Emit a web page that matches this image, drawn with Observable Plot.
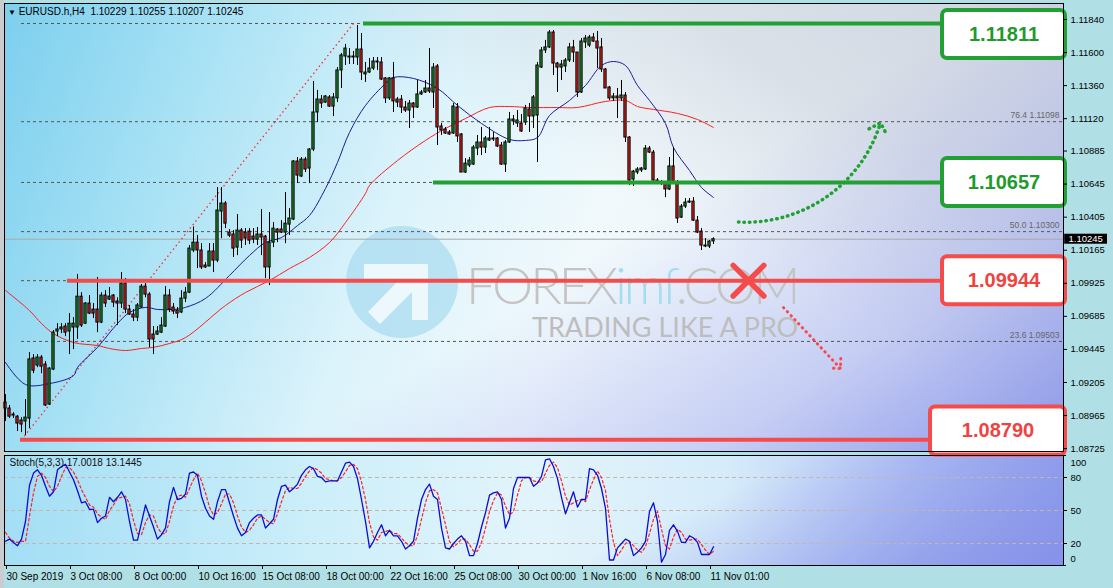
<!DOCTYPE html>
<html><head><meta charset="utf-8">
<script src="https://cdn.jsdelivr.net/npm/d3@7"></script>
<script src="https://cdn.jsdelivr.net/npm/@observablehq/plot@0.6"></script>
<style>
html,body{margin:0;padding:0;background:#b0e0e6;}
#wrap{position:relative;width:1113px;height:588px;overflow:hidden;background:#b0e0e6;font-family:"Liberation Sans",Arial,sans-serif;}
#edge{position:absolute;left:0;top:0;width:4px;height:588px;background:#c9cdd0;}
#bgMain{position:absolute;left:4px;top:3px;width:1059px;height:448px;
 background:
  linear-gradient(148deg, rgba(255,255,255,0) 56%, rgba(150,160,240,0.45) 80%, rgba(118,132,232,0.8) 100%),
  linear-gradient(30deg, rgba(255,255,255,0) 58%, rgba(196,202,214,0.5) 78%, rgba(186,192,208,0.55) 100%),
  linear-gradient(110deg, #7ccfee 0%, #a9e2f5 18%, #dcf3fb 38%, #f1f9fc 55%, #eef4f8 75%, #dfe5ef 100%);}
#bgStoch{position:absolute;left:4px;top:455px;width:1059px;height:110px;
 background:
  linear-gradient(155deg, rgba(255,255,255,0) 62%, rgba(130,142,232,0.85) 100%),
  linear-gradient(90deg, #a3def5 0%, #cdeffa 30%, #e2f4fb 50%, #d6ecfa 68%, #b4c4f4 85%, #98a8ee 100%);}
#wm{position:absolute;left:0;top:0;}
#main,#stoch{position:absolute;left:0;}
#main{top:0}
#stoch{top:453px}
#title{position:absolute;left:8px;top:6px;font-size:10px;color:#000;white-space:pre;line-height:12px;}
#title .tri{font-size:8px;}
</style></head>
<body>
<div id="wrap">
  <div id="edge"></div>
  <div id="bgMain"></div>
  <div id="bgStoch"></div>
  <svg id="wm" width="1113" height="588">
    <circle cx="402" cy="282" r="56" fill="#a3d9ee" opacity="0.65"/>
    <path d="M364 264 H428 V320 H412 V292 L380 324 L368 312 L398 281 H364 Z" fill="#ffffff" opacity="0.75"/>
    <text x="466" y="304" font-family="Lato" font-weight="300" font-size="52" letter-spacing="-3" fill="#c4c4c4">FOREX<tspan fill="#a6dcef">imf</tspan>.COM</text>
    <text x="532" y="337" font-family="Lato" font-size="27" fill="#bdbdbd">TRADING LIKE A PRO</text>
  </svg>
  <div id="main"></div>
  <div id="stoch"></div>
  <div id="title"></div>
</div>
<script>
// ---------- data ----------
const open = [1.09059,1.09016,1.08972,1.08957,1.08929,1.08922,1.08943,1.09379,1.09328,1.09386,
1.09335,1.09045,1.09299,1.09575,1.09604,1.09611,1.09575,1.09604,1.09604,1.09828,
1.09632,1.09778,1.09734,1.09734,1.0964,1.09836,1.09807,1.09836,1.09793,1.09778,
1.09923,1.09734,1.09698,1.09676,1.09749,1.09901,1.09843,1.09553,1.09553,1.09567,
1.09611,1.09836,1.09749,1.09727,1.09713,1.09814,1.09857,1.10163,1.1022,1.10163,
1.10054,1.10047,1.10156,1.1009,1.10446,1.10504,1.10293,1.10279,1.10184,1.10308,
1.10293,1.103,1.10264,1.10242,1.10279,1.10264,1.1004,1.1022,1.10315,1.10315,
1.10293,1.10351,1.10388,1.10809,1.107,1.10823,1.10758,1.10896,1.11165,1.11259,
1.11237,1.11274,1.11208,1.11267,1.1147,1.11571,1.11571,1.11571,1.11564,1.11622,
1.11441,1.11455,1.11484,1.11535,1.11528,1.11412,1.11267,1.11412,1.11259,1.11259,
1.11201,1.11179,1.1123,1.11201,1.11296,1.1131,1.11339,1.1131,1.11499,1.11063,
1.11041,1.1102,1.11012,1.11201,1.11005,1.10729,1.1078,1.10787,1.10903,1.10947,
1.1091,1.10961,1.10976,1.10976,1.10925,1.10787,1.10947,1.111,1.11085,1.11085,
1.11092,1.11187,1.11136,1.11143,1.11491,1.11615,1.11637,1.11745,1.1152,1.11491,
1.11499,1.11542,1.11637,1.116,1.1131,1.11673,1.11651,1.11709,1.1168,1.11637,
1.11477,1.11346,1.11267,1.11281,1.11267,1.11288,1.10983,1.10678,1.10729,1.10744,
1.10751,1.10903,1.10874,1.10671,1.10656,1.10649,1.10606,1.10773,1.10656,1.10402,
1.10482,1.10511,1.10518,1.1038,1.103,1.10199,1.10192,1.10229];
const high = [1.09117,1.09038,1.08986,1.08965,1.0895,1.09081,1.09422,1.09408,1.09408,1.09401,
1.09357,1.09313,1.09582,1.09632,1.09632,1.09632,1.09705,1.09676,1.09989,1.09857,
1.09785,1.09836,1.09778,1.09967,1.09857,1.09872,1.09894,1.09843,1.0982,1.10003,
1.0996,1.09764,1.09734,1.09778,1.09916,1.09923,1.09857,1.09611,1.09611,1.09676,
1.09901,1.09879,1.09778,1.09749,1.09872,1.09894,1.10199,1.10334,1.10272,1.10213,
1.10075,1.10213,1.10213,1.1062,1.1062,1.10518,1.10315,1.10308,1.10424,1.10322,
1.10322,1.10322,1.10322,1.1033,1.1046,1.10272,1.10439,1.10366,1.10322,1.1038,
1.10584,1.10467,1.10816,1.10838,1.10838,1.10838,1.10903,1.1139,1.11325,1.11288,
1.11288,1.11288,1.11303,1.11491,1.11593,1.11659,1.11629,1.11608,1.11796,1.11738,
1.11528,1.11557,1.11564,1.11564,1.11564,1.11419,1.11419,1.11528,1.11274,1.11288,
1.11245,1.11252,1.11237,1.11397,1.11325,1.11397,1.11629,1.1152,1.11513,1.11085,
1.11056,1.11034,1.1123,1.1123,1.11012,1.1083,1.10838,1.10925,1.10998,1.11056,
1.10991,1.11056,1.1102,1.10983,1.10947,1.10961,1.11165,1.11143,1.11179,1.1115,
1.11216,1.1123,1.11288,1.11528,1.11637,1.11688,1.1176,1.1176,1.11528,1.11542,
1.11557,1.11666,1.11688,1.116,1.11702,1.11724,1.11724,1.11738,1.11753,1.11702,
1.11484,1.11354,1.11303,1.11339,1.11397,1.1131,1.10991,1.10744,1.10765,1.10765,
1.10925,1.10918,1.10889,1.10685,1.10671,1.10649,1.10838,1.1091,1.10671,1.10497,
1.1054,1.1054,1.10547,1.1041,1.10322,1.1025,1.10235,1.10255];
const low = [1.08922,1.08943,1.08943,1.08849,1.08841,1.0882,1.08871,1.09269,1.09313,1.09269,
1.0903,1.09038,1.09291,1.09538,1.0956,1.09538,1.09408,1.09444,1.09517,1.09604,
1.09625,1.09698,1.09669,1.09567,1.09632,1.09749,1.098,1.09749,1.09618,1.09742,
1.09705,1.09691,1.09647,1.09647,1.09742,1.0982,1.09458,1.09408,1.09546,1.0956,
1.09604,1.09713,1.09698,1.09669,1.09705,1.09785,1.0985,1.10148,1.10032,1.10025,
1.10032,1.10047,1.10003,1.10075,1.10249,1.10322,1.10257,1.10112,1.10126,1.10177,
1.10199,1.10206,1.10213,1.10199,1.10126,1.09959,1.09909,1.10184,1.1022,1.10286,
1.10213,1.10272,1.1038,1.10649,1.10693,1.10729,1.10649,1.10881,1.11092,1.11194,
1.1123,1.11201,1.11135,1.11237,1.11339,1.11506,1.11513,1.11513,1.11506,1.11397,
1.11383,1.11448,1.1147,1.1147,1.11397,1.1123,1.11252,1.11165,1.11201,1.11157,
1.11165,1.11049,1.11121,1.11194,1.11288,1.11303,1.11303,1.11194,1.10925,1.10998,
1.11005,1.10998,1.11005,1.10947,1.10729,1.10722,1.10765,1.1078,1.10852,1.10852,
1.10867,1.10954,1.10954,1.1091,1.1078,1.10729,1.1094,1.11071,1.11056,1.1102,
1.11071,1.1102,1.11049,1.10802,1.11484,1.11593,1.11629,1.11433,1.1131,1.11397,
1.11455,1.11528,1.11528,1.11274,1.11303,1.11629,1.11637,1.11673,1.11484,1.11455,
1.11339,1.11252,1.11245,1.11121,1.11245,1.10947,1.10635,1.10628,1.10714,1.10729,
1.10744,1.10867,1.10656,1.10649,1.10635,1.10547,1.10598,1.10649,1.10359,1.10395,
1.10468,1.10504,1.10373,1.10286,1.10163,1.10184,1.10177,1.10207];
const close = [1.09016,1.08957,1.08965,1.08907,1.089,1.0895,1.09372,1.09291,1.09386,1.0932,
1.09038,1.09306,1.09567,1.0959,1.0959,1.09567,1.09632,1.09632,1.09828,1.09618,
1.09778,1.09705,1.09705,1.0964,1.09836,1.09778,1.09828,1.09785,1.09778,1.09923,
1.09734,1.09698,1.09676,1.09764,1.09901,1.09843,1.09517,1.09517,1.09575,1.09618,
1.09836,1.09734,1.0972,1.09705,1.09814,1.09857,1.10177,1.1022,1.10163,1.1004,
1.1004,1.10156,1.1009,1.10453,1.10504,1.10358,1.10271,1.10177,1.10308,1.10235,
1.1025,1.10235,1.10242,1.10279,1.10257,1.1004,1.1022,1.10322,1.10293,1.10293,
1.10358,1.10395,1.10809,1.10707,1.10823,1.10751,1.10896,1.11165,1.11259,1.1123,
1.11281,1.11208,1.11274,1.1147,1.11579,1.11629,1.11564,1.11564,1.11622,1.11455,
1.11455,1.11484,1.11535,1.11528,1.11404,1.11267,1.11412,1.11245,1.11237,1.11201,
1.11179,1.1123,1.11201,1.11296,1.1131,1.11339,1.11317,1.11491,1.11056,1.11034,
1.11012,1.11005,1.11208,1.10991,1.10729,1.10794,1.10816,1.1091,1.10947,1.1091,
1.10976,1.10976,1.10969,1.10918,1.10787,1.10947,1.11114,1.11114,1.11107,1.11027,
1.11194,1.11136,1.11274,1.11506,1.11615,1.11637,1.11745,1.1152,1.11491,1.11513,
1.11542,1.11637,1.116,1.1131,1.1168,1.11702,1.11709,1.1168,1.11629,1.11477,
1.11339,1.11267,1.11281,1.11267,1.11288,1.10983,1.10671,1.10736,1.10751,1.10758,
1.10903,1.10874,1.10671,1.10656,1.10649,1.10606,1.10773,1.10656,1.10395,1.10482,
1.10511,1.10518,1.1038,1.10293,1.10199,1.10192,1.10228,1.10245];

const maBlueBar = [0,5,11,17,18,23,28,31,35,38,42,45,50,56,61,65,69,73,76,80,83,86,90,95,97,102,108,113,119,126,130,133,136,141,145,149,152,155,158,161,165,167,171,174,177];
const maBlue = [1.0935,1.0919,1.09197,1.09255,1.09314,1.0946,1.09633,1.09713,1.0975,1.09735,1.09735,1.0975,1.09815,1.09982,1.10127,1.10221,1.10257,1.10344,1.10417,1.10613,1.10802,1.1102,1.11216,1.11375,1.11419,1.11412,1.11339,1.11216,1.11085,1.10969,1.10962,1.10983,1.11143,1.11252,1.11361,1.11506,1.11535,1.11506,1.11361,1.11252,1.11085,1.1091,1.10744,1.1062,1.10548];
const maRedBar = [0,6,9,12,17,23,26,30,34,37,41,45,55,60,66,71,76,81,85,90,91,98,105,110,115,121,126,131,138,143,150,155,158,162,168,173,177];
const maRed = [1.09873,1.09727,1.09633,1.0956,1.09495,1.09473,1.09452,1.09437,1.09452,1.0946,1.09488,1.09531,1.09764,1.09858,1.09945,1.10032,1.10112,1.10221,1.10366,1.10577,1.10635,1.10816,1.10962,1.11049,1.11121,1.11201,1.11208,1.11201,1.11201,1.11201,1.11245,1.11252,1.11208,1.11187,1.11158,1.11114,1.11056];

const stochK = [22,24,21,18,24,40,73,84,87,82, 72,63,67,87,90,92,85,78,68,57,
58,51,51,39,43,45,62,58,62,67, 60,40,23,23,39,55,45,35,24,28,
34,58,71,60,61,65,84,85,82,63, 52,45,42,58,69,69,57,45,34,27,
30,39,43,46,46,34,38,42,60,72, 73,67,70,74,82,87,90,88,81,80,
76,77,77,77,85,93,94,90,79,60, 40,16,22,30,37,27,32,27,27,22,
15,18,22,43,60,69,74,63,60,34, 16,15,20,24,27,22,9,9,20,35,
48,64,66,67,60,34,43,70,80,80, 80,80,72,75,81,96,97,90,79,62,
47,57,67,53,60,60,88,87,82,70, 52,5,5,16,20,24,22,9,12,16,
22,49,57,40,3,10,32,37,31,21, 21,27,25,21,10,10,10,17];
const stochD = [30,25,22,21,22,22,45,66,81,84, 80,72,67,72,81,89,89,85,78,69,
62,55,53,47,44,42,50,55,61,62, 63,56,41,29,28,39,46,45,35,29,
29,40,54,63,64,62,70,78,84,77, 66,53,46,48,56,65,65,57,45,35,
30,32,37,43,45,42,39,38,47,58, 68,71,70,70,75,81,86,89,87,84,
79,78,77,77,80,85,91,92,88,76, 60,39,26,23,30,31,32,29,29,25,
21,18,18,27,42,57,68,69,66,52, 37,22,17,20,24,24,19,13,13,21,
34,49,59,66,64,54,46,49,64,77, 80,80,77,76,76,84,91,94,89,77,
63,55,57,59,60,58,69,78,86,80, 68,42,21,9,14,20,22,18,14,12,
17,29,42,49,33,18,15,26,33,30, 24,23,24,24,19,14,10,13];

const priceTicks = [1.11840,1.11600,1.11360,1.11120,1.10885,1.10645,1.10405,1.10165,1.09925,1.09685,1.09445,1.09205,1.08965,1.08725];
const dateBars = [0,16,32,48,64,80,96,112,128,144,160,176];
const dateLabels = ["30 Sep 2019","3 Oct 08:00","8 Oct 00:00","10 Oct 16:00","15 Oct 08:00","18 Oct 00:00","22 Oct 16:00","25 Oct 08:00","30 Oct 00:00","1 Nov 16:00","6 Nov 08:00","11 Nov 01:00"];
const stochTicks = [20,50,80];
const stochTop = [100];
const stochBottom = [0];

const fibPct = [0,23.6,38.2,50,61.8,76.4,100];
const fibPrice = [1.08790,1.09503,1.09944,1.10300,1.10657,1.11098,1.11811];
const fibLabeled = [23.6,50,76.4];
const fibAnchorBars = [4,87];

const levelPrice = [1.11811,1.10657,1.09944,1.08790];
const levelDir = ["up","up","down","down"];
const levelStartBar = [89.5,107,15.5,3.75];
const boxStartBar = [234.25,234.25,234.25,231.25];

const arrowUpBar = [183.25,218.75];
const arrowUpPrice = [1.10370,1.11090];
const arrowDownBar = [194.5,208.75];
const arrowDownPrice = [1.09749,1.09307];
const crossBar = [185.75];

const symbolName = "EURUSD.h,H4";
const stochName = "Stoch(5,3,3)";
const stochLast = ["17.0018","13.1445"];

// ---------- layout ----------
const W = 1113;
const xDomain = [-0.25, 264.5];
const yDomain = [1.08704, 1.11956];
const GREEN = "#22a033", RED = "#f54b4b";
const GREEN_T = "#1f9a2d", RED_T = "#ef4343";
const font = "Liberation Sans, Arial, sans-serif";
const fmt5 = d3.format(".5f");

const bars = open.map((o, i) => ({i, o, h: high[i], l: low[i], c: close[i]}));
const bull = bars.filter(d => d.c >= d.o);
const bear = bars.filter(d => d.c < d.o);
const last = bars[bars.length - 1];

document.getElementById("title").innerHTML =
  `<span class="tri">&#9660;</span> ${symbolName}  ${fmt5(last.o)} ${fmt5(last.h)} ${fmt5(last.l)} ${fmt5(last.c)}`;

const fibs = fibPct.map((p, k) => ({pct: p, price: fibPrice[k]}));
const pxPerPrice = 448 / (yDomain[1] - yDomain[0]);
const halfBox = 24 / pxPerPrice;
const levels = levelPrice.map((p, k) => {
  const center = Math.min(Math.max(p, yDomain[0] + halfBox - 3.5 / pxPerPrice), yDomain[1] - halfBox - 7 / pxPerPrice);
  return {price: p, color: levelDir[k] === "up" ? GREEN : RED, tcolor: levelDir[k] === "up" ? GREEN_T : RED_T,
    start: levelStartBar[k], boxStart: boxStartBar[k], boxEnd: xDomain[1] + 0.5, center};
});

const main = Plot.plot({
  width: W, height: 452, marginTop: 3, marginBottom: 1, marginLeft: 4, marginRight: 50,
  style: {background: "transparent", overflow: "visible", fontFamily: font, fontSize: "9.5px", color: "#000"},
  x: {domain: xDomain, axis: null},
  y: {domain: yDomain, axis: null},
  marks: [
    Plot.ruleY(fibs, {y: "price", x1: fibAnchorBars[0], x2: xDomain[1], stroke: "#555", strokeDasharray: "3,3", strokeWidth: 1}),
    Plot.ruleY([last.c], {stroke: "#a9a9a9", strokeWidth: 1}),
    Plot.text(fibs.filter(d => fibLabeled.includes(d.pct)), {x: xDomain[1], y: "price", text: d => `${d.pct.toFixed(1)} ${fmt5(d.price)}`,
      textAnchor: "end", dx: -4, dy: -6, fontSize: 8.5, fill: "#666"}),
    Plot.link([0], {x1: fibAnchorBars[0], y1: fibPrice[0], x2: fibAnchorBars[1], y2: fibPrice[fibPrice.length - 1],
      stroke: "#ff2a2a", strokeWidth: 1.3, strokeDasharray: "1.5,3"}),
    Plot.line(maRed, {x: (d, i) => maRedBar[i], y: d => d, curve: "catmull-rom", stroke: "#ff1e1e", strokeWidth: 1}),
    Plot.line(maBlue, {x: (d, i) => maBlueBar[i], y: d => d, curve: "catmull-rom", stroke: "#1c1c96", strokeWidth: 1}),
    Plot.ruleX(bars, {x: "i", y1: "l", y2: "h", stroke: "#000", strokeWidth: 1}),
    Plot.rect(bull, {x1: d => d.i - 0.28, x2: d => d.i + 0.28, y1: "o", y2: "c", fill: "#23902a", stroke: "#000", strokeWidth: 1}),
    Plot.rect(bear, {x1: d => d.i - 0.28, x2: d => d.i + 0.28, y1: "c", y2: "o", fill: "#e3221c", stroke: "#000", strokeWidth: 1}),
    // support / resistance levels
    Plot.ruleY(levels, {y: "price", x1: "start", x2: "boxStart", stroke: d => d.color, strokeWidth: 4}),
    Plot.rect(levels, {x1: "boxStart", x2: "boxEnd", y1: d => d.center - halfBox, y2: d => d.center + halfBox,
      fill: "#fff", stroke: d => d.color, strokeWidth: 4, rx: 5}),
    Plot.text(levels, {x: d => (d.boxStart + d.boxEnd) / 2, y: "center", text: d => fmt5(d.price), fill: d => d.tcolor,
      fontSize: 20, fontWeight: "bold", fontFamily: font}),
    // scenario arrows
    Plot.arrow([0], {x1: arrowUpBar[0], y1: arrowUpPrice[0], x2: arrowUpBar[1], y2: arrowUpPrice[1], bend: -38,
      stroke: GREEN, strokeWidth: 3.5, strokeDasharray: "0.5,5", strokeLinecap: "round", headLength: 5.5, headAngle: 90}),
    Plot.arrow([0], {x1: arrowDownBar[0], y1: arrowDownPrice[0], x2: arrowDownBar[1], y2: arrowDownPrice[1],
      stroke: RED, strokeWidth: 3, strokeDasharray: "0.5,5", strokeLinecap: "round", headLength: 5, headAngle: 90}),
    Plot.dot(crossBar, {x: d => d, y: levelPrice[2], symbol: "times", r: 14, stroke: RED, strokeWidth: 5.5, strokeLinecap: "round"}),
    // price axis
    Plot.axisY({anchor: "right", ticks: priceTicks, tickFormat: fmt5, tickSize: 3, tickPadding: 4, fontSize: 9.5, label: null, fill: "#000"}),
    Plot.rect([last.c], {x1: xDomain[1] + 0.3, x2: xDomain[1] + 11, y1: d => d - 5 / pxPerPrice, y2: d => d + 5 / pxPerPrice, fill: "#000"}),
    Plot.text([last.c], {x: xDomain[1], y: d => d, dx: 5, text: d => fmt5(d), textAnchor: "start", fill: "#fff", fontSize: 9.5}),
    Plot.frame({stroke: "#000", strokeWidth: 1})
  ]
});
document.getElementById("main").append(main);

const stoch = Plot.plot({
  width: W, height: 135, marginTop: 2, marginBottom: 23, marginLeft: 4, marginRight: 50,
  style: {background: "transparent", overflow: "visible", fontFamily: font, fontSize: "9.5px", color: "#000"},
  x: {domain: xDomain, axis: null},
  y: {domain: [0, 100], axis: null},
  marks: [
    Plot.ruleY(stochTicks, {stroke: "#c4b6ad", strokeDasharray: "4,3", strokeWidth: 1}),
    Plot.line(stochD, {x: (d, i) => i, y: d => d, stroke: "#ff2020", strokeWidth: 1.2, strokeDasharray: "2.5,2.5"}),
    Plot.line(stochK, {x: (d, i) => i, y: d => d, stroke: "#0c0cd2", strokeWidth: 1.3}),
    Plot.text([`${stochName} ${stochLast.join(" ")}`], {frameAnchor: "top-left", dx: 5, dy: 3, lineAnchor: "top", textAnchor: "start", fontSize: 10, fill: "#111"}),
    Plot.axisY({anchor: "right", ticks: stochTicks, tickSize: 3, tickPadding: 4, fontSize: 9.5, label: null, fill: "#000"}),
    Plot.ruleY(stochTop.concat(stochBottom), {x1: xDomain[1], x2: xDomain[1] + 0.75, stroke: "#000"}),
    Plot.text(stochTop, {x: xDomain[1], y: d => d, dx: 7, dy: 7, text: d => String(d), textAnchor: "start", fontSize: 9.5, fill: "#000"}),
    Plot.text(stochBottom, {x: xDomain[1], y: d => d, dx: 7, dy: -7, text: d => String(d), textAnchor: "start", fontSize: 9.5, fill: "#000"}),
    Plot.axisX({ticks: dateBars, tickFormat: d => dateLabels[dateBars.indexOf(d)], tickSize: 4, tickPadding: 3,
      textAnchor: "start", dx: 1, fontSize: 10, label: null, fill: "#000"}),
    Plot.frame({stroke: "#000", strokeWidth: 1})
  ]
});
document.getElementById("stoch").append(stoch);
</script>
</body></html>
